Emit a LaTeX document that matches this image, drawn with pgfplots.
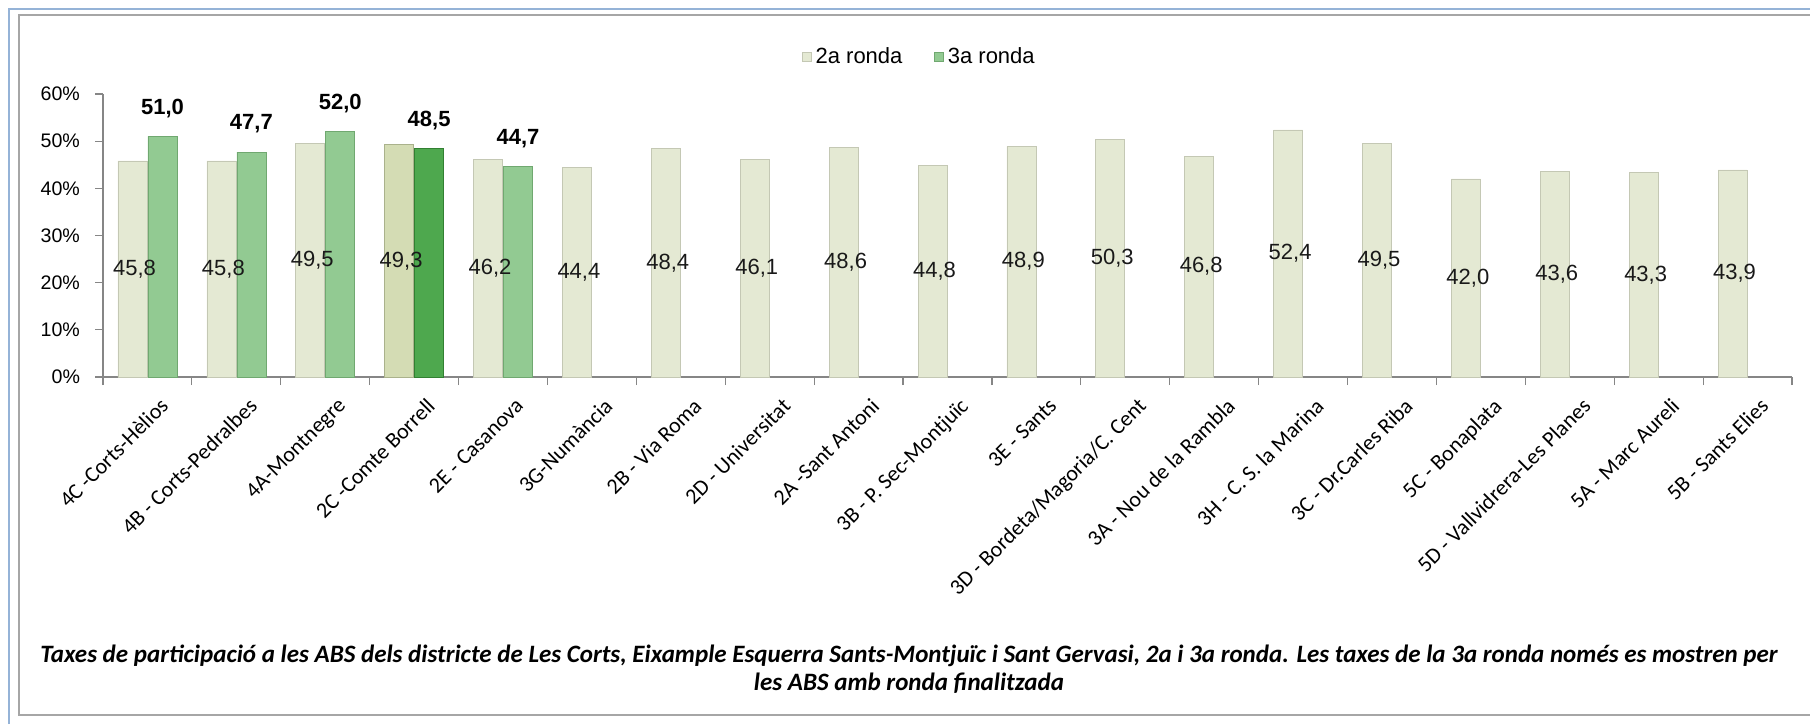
\documentclass[border=0pt]{standalone}
\usepackage{pgfplots}
\pgfplotsset{compat=1.18}
\usepackage{fontspec}
\setmainfont{Carlito}
\newfontfamily\arialf{Liberation Sans}
\definecolor{frameblue}{RGB}{149,179,215}
\definecolor{framegray}{RGB}{166,166,166}
\definecolor{axgray}{RGB}{134,134,134}
\definecolor{twoC}{RGB}{228,233,211}
\definecolor{twoE}{RGB}{196,200,180}
\definecolor{threeC}{RGB}{146,202,146}
\definecolor{threeE}{RGB}{112,168,112}
\definecolor{htwoC}{RGB}{212,220,180}
\definecolor{htwoE}{RGB}{170,178,140}
\definecolor{hthreeC}{RGB}{78,168,78}
\definecolor{hthreeE}{RGB}{50,128,50}
\begin{document}
\begin{tikzpicture}
\path[use as bounding box] (-51.5pt,-173.5pt) rectangle (853.5pt,188.5pt);
% frame
\draw[frameblue, line width=1.2pt] (-47pt,-173.5pt) -- (-47pt,184pt) -- (853.5pt,184pt);
\draw[framegray, line width=1.2pt] (853.5pt,181pt) -- (-42pt,181pt) -- (-42pt,-169pt) -- (853.5pt,-169pt);
\begin{axis}[
  scale only axis,
  width=844.5pt, height=141.5pt,
  xmin=-0.5, xmax=18.5,
  ymin=0, ymax=60,
  axis x line*=bottom,
  axis y line*=left,
  axis line style={axgray, line width=0.6pt},
  /pgf/number format/assume math mode=true,
  ytick={0,10,...,60},
  yticklabel={\pgfmathprintnumber{\tick}\%},
  yticklabel style={font=\arialf\fontsize{9.8}{12}\selectfont, xshift=-4pt},
  y tick style={axgray, line width=0.6pt},
  tick align=outside,
  major tick length=4pt,
  xtick={0,...,18},
  x tick style={draw=none},
  xticklabels={4C -Corts-Hèlios, 4B - Corts-Pedralbes, 4A-Montnegre, 2C -Comte Borrell, 2E - Casanova, 3G-Numància, 2B - Via Roma, 2D - Universitat, 2A -Sant Antoni, 3B - P. Sec-Montjuïc, 3E - Sants, 3D - Bordeta/Magoria/C. Cent, 3A - Nou de la Rambla, 3H - C. S. la Marina, 3C - Dr.Carles Riba, 5C - Bonaplata, 5D - Vallvidrera-Les Planes, 5A - Marc Aureli, 5B - Sants Elies},
  xticklabel style={font=\fontsize{11}{13}\selectfont, rotate=45, anchor=north east, inner sep=1pt, yshift=-7pt, xshift=1pt},
  extra x ticks={-0.5,0.5,...,18.5},
  extra x tick labels={},
  extra x tick style={x tick style={draw=axgray, line width=0.6pt}, major tick length=4pt},
  legend style={at={(0.484,1)}, anchor=center, yshift=18.5pt, draw=none, fill=none,
    legend columns=2, font=\arialf\fontsize{11}{13}\selectfont,
    /tikz/every even column/.append style={column sep=14pt}},
  legend image code/.code={\fill[#1] (0pt,-2.2pt) rectangle (4.4pt,2.2pt);},
  clip=false,
]
% 2a ronda
\addplot[ybar, bar width=14.5pt, bar shift=-7.5pt, draw=twoE, line width=0.3pt, fill=twoC] coordinates {
  (0,45.8) (1,45.8) (2,49.5) (4,46.2) (5,44.4) (6,48.4) (7,46.1) (8,48.6) (9,44.8)
  (10,48.9) (11,50.3) (12,46.8) (13,52.4) (14,49.5) (15,42.0) (16,43.6) (17,43.3) (18,43.9)};
\addlegendentry{2a ronda}
% 3a ronda
\addplot[ybar, bar width=14.5pt, bar shift=7.5pt, draw=threeE, line width=0.3pt, fill=threeC] coordinates {
  (0,51.0) (1,47.7) (2,52.0) (4,44.7)};
\addlegendentry{3a ronda}
% highlighted 2C - Comte Borrell
\addplot[ybar, bar width=14.5pt, bar shift=-7.5pt, draw=htwoE, line width=0.3pt, forget plot, fill=htwoC] coordinates {(3,49.3)};
\addplot[ybar, bar width=14.5pt, bar shift=7.5pt, draw=hthreeE, line width=0.3pt, forget plot, fill=hthreeC] coordinates {(3,48.5)};
% labels 2a (inside bar, middle height)
\addplot[draw=none, mark=none, forget plot, point meta=explicit,
  nodes near coords={\pgfmathprintnumber[fixed, fixed zerofill, precision=1, use comma, assume math mode=true]{\pgfplotspointmeta}},
  every node near coord/.append style={anchor=center, xshift=-6.5pt, text=black!90, font=\arialf\fontsize{11}{13}\selectfont}]
  table[x=x, y expr=\thisrow{v}/2, meta=v] {
x v
0 45.8
1 45.8
2 49.5
3 49.3
4 46.2
5 44.4
6 48.4
7 46.1
8 48.6
9 44.8
10 48.9
11 50.3
12 46.8
13 52.4
14 49.5
15 42.0
16 43.6
17 43.3
18 43.9
};
% labels 3a (above bar, bold)
\addplot[draw=none, mark=none, forget plot, point meta=explicit,
  nodes near coords={\pgfmathprintnumber[fixed, fixed zerofill, precision=1, use comma, assume math mode=true]{\pgfplotspointmeta}},
  every node near coord/.append style={anchor=center, xshift=7.5pt, yshift=14pt, text=black, font=\arialf\bfseries\fontsize{11}{13}\selectfont}]
  table[x=x, y=v, meta=v] {
x v
0 51.0
1 47.7
2 52.0
3 48.5
4 44.7
};
\end{axis}
\node[align=center, font=\bfseries\itshape\fontsize{12.5}{14}\selectfont] at (403pt,-146pt)
  {Taxes de participació a les ABS dels districte de Les Corts, Eixample Esquerra Sants-Montjuïc i Sant Gervasi, 2a i 3a ronda. Les taxes de la 3a ronda només es mostren per\\ les ABS amb ronda finalitzada};
\end{tikzpicture}
\end{document}
